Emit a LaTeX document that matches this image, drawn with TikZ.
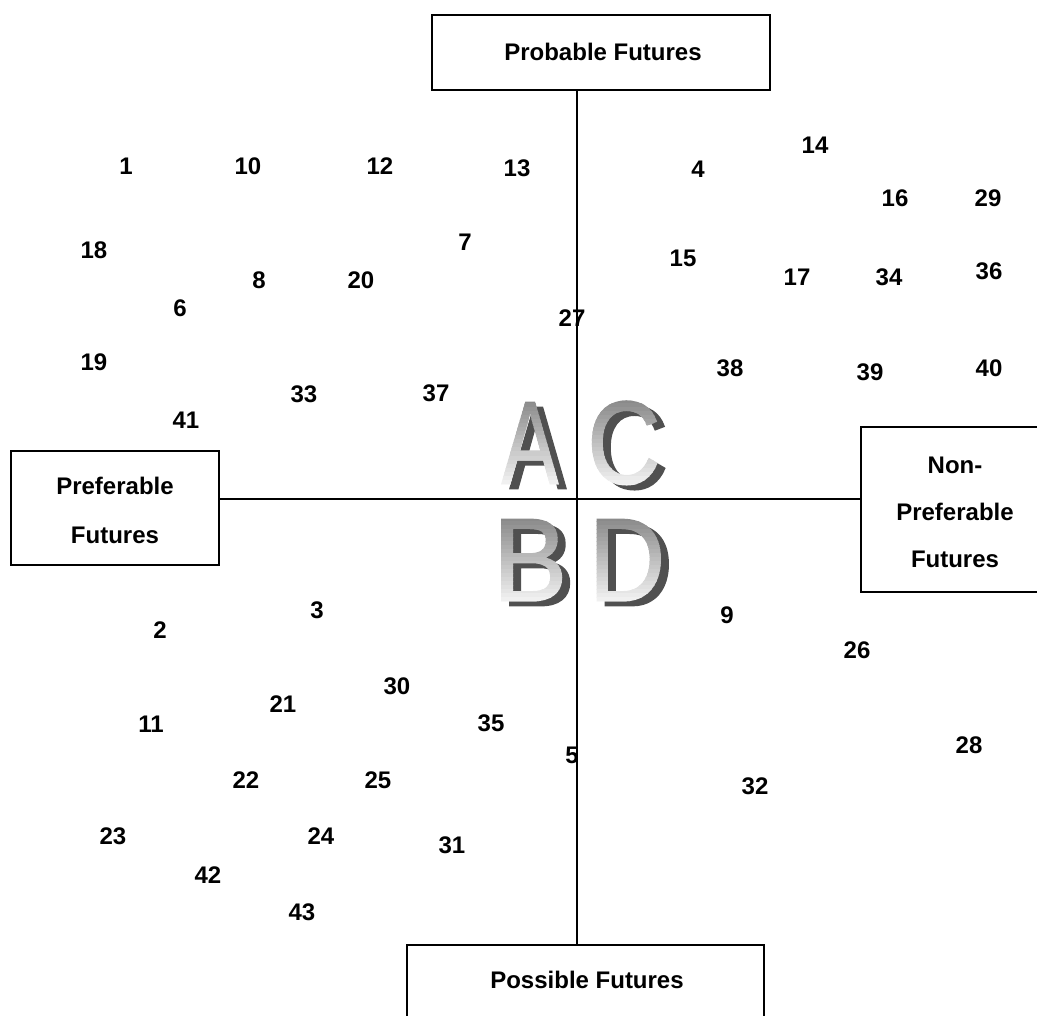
\documentclass[tikz,border=0pt]{standalone}
\usepackage{fontspec}
\setmainfont{Liberation Sans}
\newfontfamily\letterfamily[FakeBold=1.3]{Liberation Sans}
\newcommand\bigletterfont{\letterfamily\fontsize{118}{118}\selectfont}
\definecolor{shadowgray}{HTML}{505050}
\tikzset{
  box/.style={draw, line width=1.5pt, fill=white, inner sep=0pt},
  num/.style={font=\bfseries\fontsize{24}{24}\selectfont, inner sep=0pt},
  lbl/.style={font=\bfseries\fontsize{24}{24}\selectfont, inner sep=0pt, align=center},
  axis/.style={line width=1.5pt},
  bigletter/.style={font=\bigletterfont, inner sep=0pt}
}
% gradient letter: #1 letter, #2 x, #3 y (centre), #4 xscale
\newcommand\gradletter[4]{%
  \node[bigletter, xscale=#4, text=shadowgray] at (#2+8,#3+5) {#1};
  \foreach \i [evaluate=\i as \p using 48-\i*2] in {0,...,23}{
    \begin{scope}
      \clip (#2-60,#3-47+\i*4) rectangle (#2+60,#3-47+\i*4+4.6);
      \node[bigletter, xscale=#4, text=black!\p] at (#2,#3) {#1};
    \end{scope}
  }%
}
\begin{document}
\begin{tikzpicture}[x=1pt,y=-1pt]
\useasboundingbox (0,0) rectangle (1037,1016);
% boxes
\node[box, minimum width=338pt, minimum height=75pt] (top) at (601,52.5) {};
\node[lbl] (toplbl) at (603,52) {Probable Futures};
\node[box, minimum width=208pt, minimum height=114pt] (left) at (115,508) {};
\node[lbl, font=\bfseries\fontsize{24}{49}\selectfont] (leftlbl) at (115,510.5) {Preferable\\ Futures};
\node[box, minimum width=184pt, minimum height=165pt] (right) at (953,509.5) {};
\node[lbl, font=\bfseries\fontsize{24}{47}\selectfont] (rightlbl) at (955,512) {Non-\\ Preferable\\ Futures};
\node[box, minimum width=357pt, minimum height=95pt] (bot) at (585.5,992.5) {};
\node[lbl] (botlbl) at (587,980) {Possible Futures};
% axes
\coordinate (vx) at (577,0);
\coordinate (hy) at (0,499);
\draw[axis] (top.south -| vx) -- (bot.north -| vx);
\draw[axis] (left.east |- hy) -- (right.west |- hy);
% big letters
\gradletter{A}{530}{443}{0.72}
\gradletter{C}{624}{443}{0.86}
\gradletter{B}{530}{560}{0.95}
\gradletter{D}{627}{560}{0.9}
% numbers
\node[num] (n1) at (126,166) {1};
\node[num] (n10) at (248,166) {10};
\node[num] (n12) at (380,166) {12};
\node[num] (n13) at (517,168) {13};
\node[num] (n4) at (698,169) {4};
\node[num] (n14) at (815,145) {14};
\node[num] (n16) at (895,198) {16};
\node[num] (n29) at (988,198) {29};
\node[num] (n18) at (94,250) {18};
\node[num] (n7) at (465,242) {7};
\node[num] (n15) at (683,258) {15};
\node[num] (n8) at (259,280) {8};
\node[num] (n20) at (361,280) {20};
\node[num] (n17) at (797,277) {17};
\node[num] (n34) at (889,277) {34};
\node[num] (n36) at (989,271) {36};
\node[num] (n6) at (180,308) {6};
\node[num] (n27) at (572,318) {27};
\node[num] (n19) at (94,362) {19};
\node[num] (n38) at (730,368) {38};
\node[num] (n39) at (870,372) {39};
\node[num] (n40) at (989,368) {40};
\node[num] (n33) at (304,394) {33};
\node[num] (n37) at (436,393) {37};
\node[num] (n41) at (186,420) {41};
\node[num] (n2) at (160,630) {2};
\node[num] (n3) at (317,610) {3};
\node[num] (n9) at (727,615) {9};
\node[num] (n26) at (857,650) {26};
\node[num] (n30) at (397,686) {30};
\node[num] (n21) at (283,704) {21};
\node[num] (n11) at (151,724) {11};
\node[num] (n35) at (491,723) {35};
\node[num] (n5) at (572,755) {5};
\node[num] (n28) at (969,745) {28};
\node[num] (n22) at (246,780) {22};
\node[num] (n25) at (378,780) {25};
\node[num] (n32) at (755,786) {32};
\node[num] (n23) at (113,836) {23};
\node[num] (n24) at (321,836) {24};
\node[num] (n31) at (452,845) {31};
\node[num] (n42) at (208,875) {42};
\node[num] (n43) at (302,912) {43};
\end{tikzpicture}
\end{document}
